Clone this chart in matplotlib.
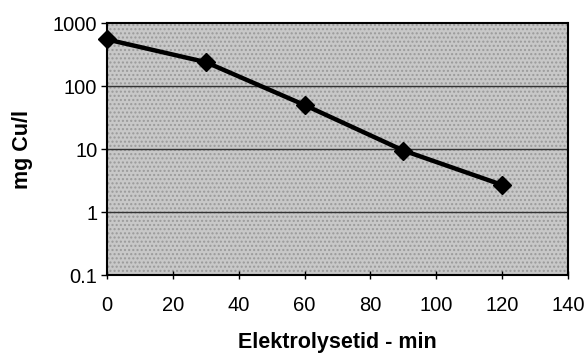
import matplotlib.pyplot as plt
import numpy as np

# Data
time_min = [0, 30, 60, 90, 120]
cu_mg_l = [550, 240, 50, 9.5, 2.7]

x_ticks = [0, 20, 40, 60, 80, 100, 120, 140]
y_ticks = [0.1, 1, 10, 100, 1000]
y_tick_labels = ["0.1", "1", "10", "100", "1000"]

plt.rcParams['font.family'] = ['Liberation Sans', 'DejaVu Sans']

fig = plt.figure(figsize=(5.88, 3.55), dpi=100)
ax = fig.add_axes([0.182, 0.225, 0.784, 0.71])

# stippled grey plot area
ax.set_facecolor('#c8c8c8')
ax.patch.set_hatch('....')
ax.patch.set_edgecolor('#9a9a9a')

ax.set_yscale('log')
ax.set_xlim(0, 140)
ax.set_ylim(0.1, 1000)

for yv in [1, 10, 100]:
    ax.axhline(yv, color='#333333', linewidth=1.0, zorder=1)

ax.plot(time_min, cu_mg_l, color='black', linewidth=3.2, marker='D',
        markersize=9, markerfacecolor='black', markeredgecolor='black',
        zorder=3, clip_on=False)

ax.set_xticks(x_ticks)
ax.set_xticklabels([str(v) for v in x_ticks])
ax.set_yticks(y_ticks)
ax.set_yticklabels(y_tick_labels)
ax.minorticks_off()

ax.tick_params(axis='x', direction='inout', length=6, width=1, labelsize=14.5, pad=12)
ax.tick_params(axis='y', direction='out', length=4, width=1, labelsize=14.5, pad=3)

for s in ax.spines.values():
    s.set_color('black')
    s.set_linewidth(1.5)
    s.set_linestyle((0, (1, 1)))

ax.set_xlabel("Elektrolysetid - min", fontsize=15.5, fontweight='bold', labelpad=12)
ax.set_ylabel("mg Cu/l", fontsize=15.5, fontweight='bold', labelpad=14)

fig.savefig("out.png", dpi=100)
